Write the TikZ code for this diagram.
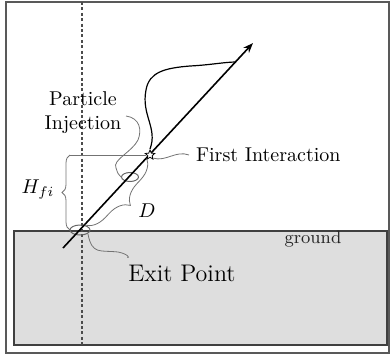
\documentclass[tikz,border=0pt]{standalone}
\usetikzlibrary{arrows.meta,positioning,decorations.pathreplacing,shapes.geometric}

\begin{document}
\begin{tikzpicture}[x=0.5pt,y=-0.5pt,>={Stealth[length=5pt]},
  note/.style={draw=black!55,line width=.4pt},
  ring/.style={ellipse,draw=black!60,line width=.5pt,inner sep=0pt},
  curly/.style={note,decorate,decoration={brace,amplitude=#1}}]
\useasboundingbox (0,0) rectangle (390,360);
% frame and ground
\draw[black!65,line width=.6pt] (6,2) rectangle (389,353);
\fill[black!13] (14,231) rectangle (387,345);
\draw[black!75,line width=.6pt] (14,231) rectangle (387,345);
\node[font=\small,text=black!85] (ground) at (313,239) {ground};
% vertical through exit point
\draw[black!70,line width=.6pt,dash pattern=on 1.5pt off 1.2pt] (82,2) -- (82,345);
% track
\coordinate (tail) at (63,248);
\coordinate (head) at (253,43);
\node[ring,minimum width=10pt,minimum height=5pt] (exit) at (80,230) {};
\node[ring,minimum width=8.5pt,minimum height=4.5pt] (inj) at (130,177) {};
\draw[->,line width=.8pt] (tail) -- (head);
\node[star,star points=5,star point ratio=2.2,draw,fill=white,
  inner sep=0pt,minimum size=5pt] (fi) at (150,155) {};
% shower
\draw[line width=.6pt] (fi.north) .. controls (158,128) and (141,115) .. (146,90)
  .. controls (149,72) and (165,68) .. (190,66)
  .. controls (210,65) and (225,62) .. (236,62);
% labels
\node[align=center] (pinj) at (83,113) {Particle\\Injection};
\node[anchor=west] (fint) at (189,155) {First Interaction};
\node[font=\large] (ep) at (182,273) {Exit Point};
\node (hlab) at (38,190) {$H_{fi}$};
\node (dlab) at (147,211) {$D$};
% leaders
\draw[note] (126,116) .. controls (140,118) and (142,130) .. (138,140)
  .. controls (132,152) and (112,160) .. (116,168) .. controls (118,174) .. (inj.west);
\draw[note] (fi.south east) .. controls (166,162) and (176,150) .. (fint.west);
\draw[note] (88,234) .. controls (92,255) and (100,250) .. (118,252)
  .. controls (128,254) and (130,258) .. ([xshift=3pt]ep.north west);
% heights and distances
\coordinate (htop) at (70,155);
\coordinate (hlow) at (70,230);
\draw[note] (htop) -- (fi);
\draw[curly=4pt] (hlow) -- (htop);
\draw[curly=10pt] (fi) -- (exit);
\end{tikzpicture}
\end{document}
